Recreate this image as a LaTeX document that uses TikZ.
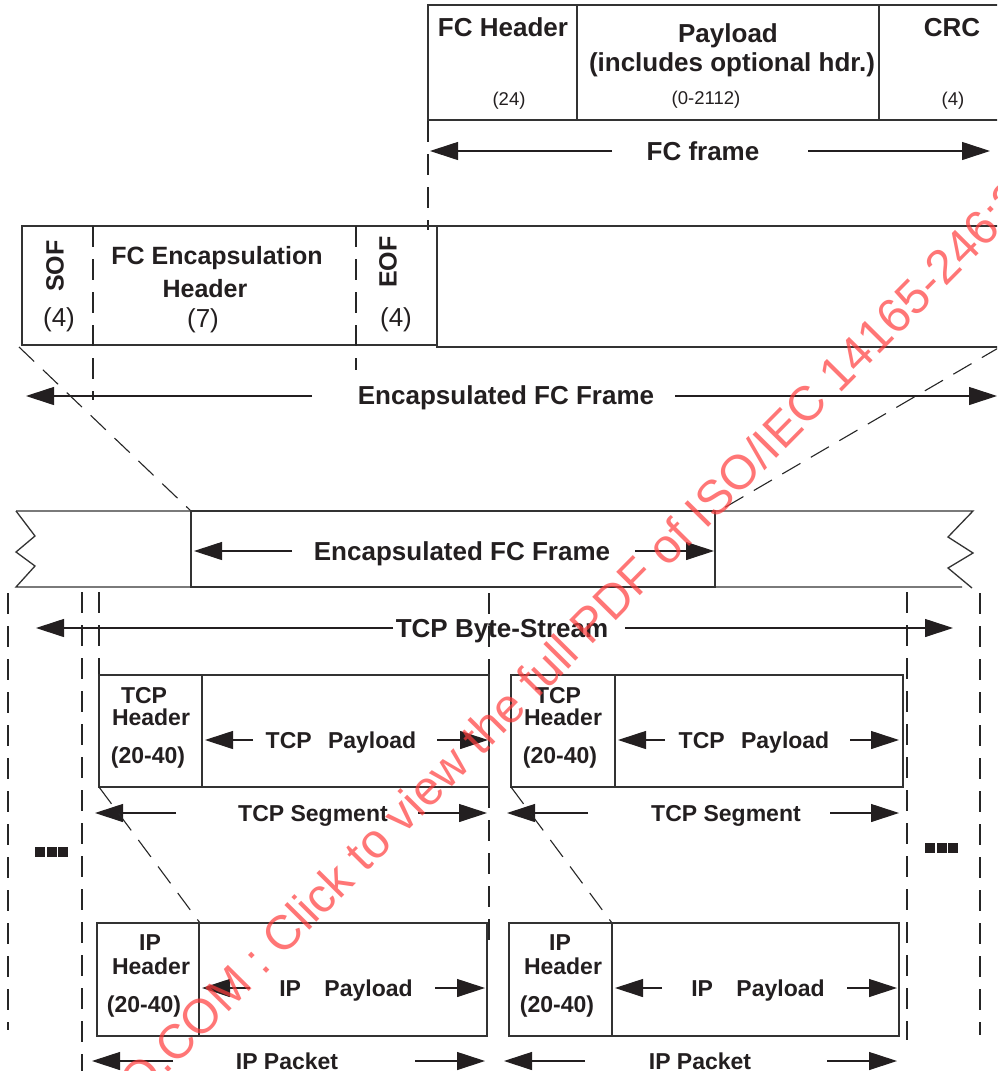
\documentclass[tikz,border=0pt]{standalone}
\usepackage{fontspec}
\setmainfont{Liberation Sans}
\usetikzlibrary{arrows.meta}
\definecolor{wmred}{RGB}{255,60,60}
\definecolor{ink}{RGB}{35,31,32}
\newcommand\mkcell[5]{\node[cell, minimum width=#4pt, minimum height=#5pt] (#1) at (#2,#3) {};}
\newcommand\mkarr[4]{\coordinate (#1s) at (#2,#4); \coordinate (#1e) at (#3,#4); \draw[arr] (#1s) -- (#1e);}
\newcommand\mkdash[4]{\coordinate (#1s) at (#2,#3); \coordinate (#1e) at (#2,#4); \draw[dsh] (#1s) -- (#1e);}
\begin{document}
\begin{tikzpicture}[x=1pt,y=-1pt,
  cell/.style={draw=black!80, line width=1.3pt, inner sep=0pt, outer sep=0pt, anchor=north west},
  arr/.style={-{Triangle[length=28pt,width=18pt]}, line width=1.1pt, draw=ink},
  dsh/.style={draw=black!85, line width=1.1pt, dash pattern=on 21pt off 12pt},
  ln/.style={draw=black!80, line width=1.3pt},
  bA/.style={font=\fontsize{26}{28}\selectfont\bfseries, text=ink, anchor=base, yshift=-9.3pt, inner sep=0pt},
  bB/.style={font=\fontsize{25}{27}\selectfont\bfseries, text=ink, anchor=base, yshift=-9pt, inner sep=0pt},
  bC/.style={font=\fontsize{23}{25}\selectfont\bfseries, text=ink, anchor=base, yshift=-8.2pt, inner sep=0pt},
  bCc/.style={font=\fontsize{23}{25}\selectfont\bfseries, text=ink, anchor=center, inner sep=0pt},
  rS/.style={font=\fontsize{18.5}{20}\selectfont, text=ink, anchor=center, inner sep=0pt},
  rL/.style={font=\fontsize{26}{28}\selectfont, text=ink, anchor=center, inner sep=0pt},
  rot/.style={font=\fontsize{25}{27}\selectfont\bfseries, text=ink, anchor=center, rotate=90, inner sep=0pt},
  sq/.style={fill=ink, draw=none},
  wm/.style={font=\fontsize{48.3}{50}\selectfont, text=wmred, text opacity=0.7, rotate=45.3, anchor=base, inner sep=0pt}
]
\clip (0,0) rectangle (997,1071);
\fill[white] (0,0) rectangle (997,1071);

% ---------- FC frame ----------
\mkcell{fch}{428}{5}{149}{115}
\mkcell{fcpl}{577}{5}{302}{115}
\mkcell{crc}{879}{5}{140}{115}
\node[bA] (t1) at (503,27) {FC Header};
\node[bA] (t2) at (728,33) {Payload};
\node[bA] (t3) at (732,62) {(includes optional hdr.)};
\node[bA] (t4) at (952,27) {CRC};
\node[rS] (t5) at (509,101) {(24)};
\node[rS] (t6) at (706,100) {(0-2112)};
\node[rS] (t7) at (953,101) {(4)};
\node[bA] (fcf) at (703,151) {FC frame};
\mkarr{fcfL}{612}{430}{151}
\mkarr{fcfR}{808}{990}{151}
\mkdash{dfc}{428}{121}{230}

% ---------- Encapsulated FC frame ----------
\mkcell{encl}{22}{226}{415}{119}
\mkcell{encr}{437}{226}{580}{121}
\mkdash{dsof}{93}{226}{400}
\mkdash{deof}{356}{226}{370}
\node[rot] (sof) at (55,266) {SOF};
\node[rL] (sofn) at (59,320) {(4)};
\node[bB] (feh1) at (217,255) {FC Encapsulation};
\node[bB] (feh2) at (205,288) {Header};
\node[rL] (fehn) at (203,321) {(7)};
\node[rot] (eof) at (388,262) {EOF};
\node[rL] (eofn) at (396,320) {(4)};
\node[bA] (efc1) at (506,395) {Encapsulated FC Frame};
\mkarr{efcL}{312}{26}{396}
\mkarr{efcR}{675}{997}{396}

% projection lines
\coordinate (pl1) at (19,347);
\coordinate (pl2) at (192,512);
\coordinate (pr1) at (1000,347);
\coordinate (pr2) at (717,512);
\draw[dsh] (pl1) -- (pl2);
\draw[dsh] (pr1) -- (pr2);

% ---------- TCP byte stream ----------
\draw[ln] (16,511) -- (973,511) -- (948,537) -- (973,553) -- (948,568) -- (972,588);
\draw[ln] (962,587) -- (16,587) -- (35,566) -- (16,552) -- (35,536) -- (16,511);
\mkcell{encs}{191}{511}{524}{76}
\node[bA] (efc2) at (462,551) {Encapsulated FC Frame};
\mkarr{ef2L}{292}{194}{551}
\mkarr{ef2R}{635}{714}{551}

\mkdash{v1}{8}{593}{1030}
\mkdash{v2}{82}{592}{1071}
\mkdash{v3}{99}{592}{675}
\mkdash{v4}{489}{593}{675}
\mkdash{v4b}{489}{787}{945}
\mkdash{v5}{907}{592}{1040}
\mkdash{v6}{980}{593}{1035}

\node[bA] (tbs) at (502,628) {TCP Byte-Stream};
\mkarr{tbsL}{393}{36}{628}
\mkarr{tbsR}{625}{953}{628}

% ---------- TCP segments ----------
\mkcell{tcph1}{99}{675}{103}{112}
\mkcell{tcpp1}{202}{675}{287}{112}
\node[bC] (th1a) at (144,695) {TCP};
\node[bC] (th1b) at (151,717) {Header};
\node[bCc] (th1c) at (148,758) {(20-40)};
\node[bC] (tp1) at (341,740) {TCP \hspace{10pt}Payload};
\mkarr{tp1L}{253}{205}{740}
\mkarr{tp1R}{437}{488}{740}
\node[bC] (ts1) at (313,813) {TCP Segment};
\mkarr{ts1L}{176}{95}{813}
\mkarr{ts1R}{418}{487}{813}

\mkcell{tcph2}{511}{675}{104}{112}
\mkcell{tcpp2}{615}{675}{288}{112}
\node[bC] (th2a) at (558,695) {TCP};
\node[bC] (th2b) at (563,717) {Header};
\node[bCc] (th2c) at (560,758) {(20-40)};
\node[bC] (tp2) at (754,740) {TCP \hspace{10pt}Payload};
\mkarr{tp2L}{665}{618}{740}
\mkarr{tp2R}{850}{899}{740}
\node[bC] (ts2) at (726,813) {TCP Segment};
\mkarr{ts2L}{588}{507}{813}
\mkarr{ts2R}{830}{899}{813}

% continuation marks
\fill[sq] (35,847) rectangle (45,857);
\fill[sq] (47,847) rectangle (57,857);
\fill[sq] (58,847) rectangle (68,857);
\fill[sq] (925,843) rectangle (935,853);
\fill[sq] (937,843) rectangle (947,853);
\fill[sq] (948,843) rectangle (958,853);

% projection TCP header -> IP header
\draw[dsh] (tcph1.south west) -- (99+101,923);
\draw[dsh] (tcph2.south west) -- (511+101,923);

% ---------- IP packets ----------
\mkcell{iph1}{97}{923}{102}{113}
\mkcell{ipp1}{199}{923}{288}{113}
\node[bC] (ih1a) at (150,942) {IP};
\node[bC] (ih1b) at (151,966) {Header};
\node[bCc] (ih1c) at (144,1007) {(20-40)};
\node[bC] (ip1) at (346,988) {IP \hspace{17pt}Payload};
\mkarr{ip1L}{250}{202}{988}
\mkarr{ip1R}{435}{485}{988}
\node[bC] (pk1) at (287,1061) {IP Packet};
\mkarr{pk1L}{173}{92}{1061}
\mkarr{pk1R}{415}{485}{1061}

\mkcell{iph2}{509}{923}{103}{113}
\mkcell{ipp2}{612}{923}{287}{113}
\node[bC] (ih2a) at (560,942) {IP};
\node[bC] (ih2b) at (563,966) {Header};
\node[bCc] (ih2c) at (557,1007) {(20-40)};
\node[bC] (ip2) at (758,988) {IP \hspace{17pt}Payload};
\mkarr{ip2L}{662}{615}{988}
\mkarr{ip2R}{847}{897}{988}
\node[bC] (pk2) at (700,1061) {IP Packet};
\mkarr{pk2L}{585}{504}{1061}
\mkarr{pk2R}{827}{897}{1061}

% watermark
\node[wm] (wmark) at (585,652) {O.COM : Click to view the full PDF of ISO/IEC 14165-246:2};
\end{tikzpicture}
\end{document}
